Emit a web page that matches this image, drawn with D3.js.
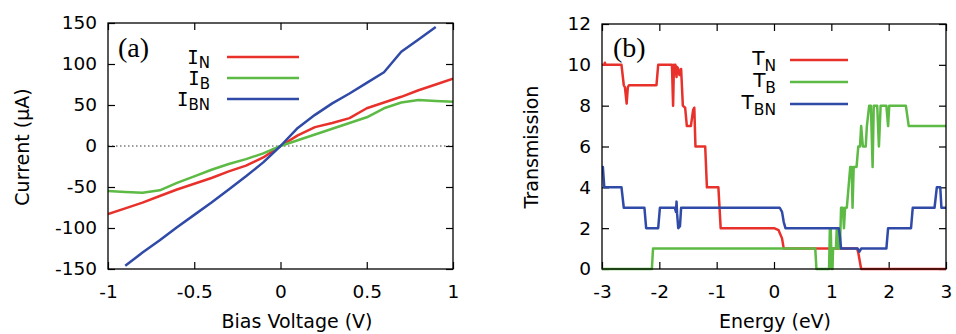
<!DOCTYPE html>
<html>
<head>
<meta charset="utf-8">
<script src="https://cdn.jsdelivr.net/npm/d3@7"></script>
<style>
  html, body { margin: 0; padding: 0; background: #fff; }
  svg { display: block; }
</style>
</head>
<body>
<svg id="chart" width="956" height="334"></svg>
<script>
// Panel (a): I-V curves
const biasV = [-1, -0.9, -0.8, -0.7, -0.6, -0.5, -0.4, -0.3, -0.2, -0.1, 0, 0.1, 0.2, 0.3, 0.4, 0.5, 0.6, 0.7, 0.8, 0.9, 1];
const currN = [-83, -76, -69, -61, -53, -46, -39, -31, -24, -14, 0, 13, 23, 28, 34, 46, 53, 60, 68, 75, 82];
const currB = [-55, -56, -57, -54, -45, -37, -29, -22, -16, -9, 0, 7, 14, 21, 28, 35, 46, 53, 56, 55, 54];
const biasVBN = [-0.9, -0.8, -0.7, -0.6, -0.5, -0.4, -0.3, -0.2, -0.1, 0, 0.1, 0.2, 0.3, 0.4, 0.5, 0.6, 0.7, 0.8, 0.9];
const currBN = [-146, -130, -115, -99, -84, -69, -53, -37, -20, 0, 22, 38, 52, 64, 77, 90, 115, 130, 145];

// Panel (b): transmission spectra
const tnE = [-3, -2.96, -2.95, -2.94, -2.66, -2.62, -2.6, -2.57, -2.55, -2.53, -2.05, -2.02, -1.78, -1.76, -1.745, -1.73, -1.72, -1.7, -1.69, -1.67, -1.65, -1.62, -1.59, -1.55, -1.52, -1.45, -1.41, -1.39, -1.37, -1.2, -1.17, -0.97, -0.93, 0.0, 0.08, 0.14, 0.17, 1.45, 1.47, 1.52, 3];
const tnT = [10, 10, 10.1, 10, 10, 9, 8.9, 8.1, 8.9, 9, 9, 10, 10, 8, 10, 9.6, 10, 9.4, 9.9, 9.8, 9.5, 9.8, 8, 7.9, 7, 7, 7.8, 7.9, 6, 6, 4, 4, 2, 2, 1.9, 1.5, 1, 1, 0.8, 0, 0];
const tbE = [-3, -2.13, -2.11, 0.72, 0.74, 0.96, 0.975, 0.99, 1.005, 1.02, 1.03, 1.08, 1.095, 1.11, 1.125, 1.15, 1.17, 1.2, 1.22, 1.24, 1.27, 1.3, 1.33, 1.355, 1.37, 1.39, 1.44, 1.47, 1.5, 1.52, 1.55, 1.6, 1.62, 1.66, 1.69, 1.72, 1.74, 1.77, 1.8, 1.83, 1.86, 1.88, 1.9, 1.93, 1.96, 1.99, 2.01, 2.3, 2.35, 3];
const tbT = [0, 0, 1, 1, 0, 0, 2, 2, 0, 0, 1, 1, 2, 2, 1, 1, 3, 3, 2, 3, 3, 4, 5, 5, 3, 5, 5, 6, 6, 7, 6, 6, 7, 8, 8, 5, 8, 8, 8, 6, 8, 8, 8, 8, 8, 7, 8, 8, 7, 7];
const tbnE = [-3, -2.985, -2.96, -2.66, -2.62, -2.26, -2.23, -2.02, -1.99, -1.73, -1.71, -1.70, -1.69, -1.67, -1.64, -1.62, 0.1, 0.14, 0.17, 0.2, 1.13, 1.15, 1.17, 1.46, 1.49, 1.52, 1.96, 1.99, 2.39, 2.42, 2.8, 2.84, 2.9, 2.92, 3];
const tbnT = [5, 5, 4, 4, 3, 3, 2, 2, 3, 3, 2.8, 3.3, 2.7, 2, 2.1, 3, 3, 2.8, 2.3, 2, 2, 1.6, 1, 1, 0.85, 1, 1, 2, 2, 3, 3, 4, 4, 3, 3];

const RED = '#e8312b';
const GREEN = '#5dba44';
const BLUE = '#2f4aa7';
const FONT = 'DejaVu Sans, sans-serif';

const svg = d3.select('#chart');

function zip(xs, ys) {
    return xs.map((x, i) => [x, ys[i]]);
}

function drawPanel(opt) {
    const { left, right, top, bottom } = opt.box;
    const x = d3.scaleLinear().domain(opt.xDomain).range([left, right]);
    const y = d3.scaleLinear().domain(opt.yDomain).range([bottom, top]);
    const g = svg.append('g');
    const TICK = 7;

    const styleAxis = sel => {
        sel.select('.domain').remove();
        sel.selectAll('line').attr('stroke', '#000').attr('stroke-width', 1.2);
        sel.selectAll('text').attr('fill', '#000');
        sel.attr('font-family', FONT).attr('font-size', 18.5);
    };

    g.append('g').attr('transform', `translate(0,${bottom})`)
        .call(d3.axisBottom(x).tickValues(opt.xTicks).tickSize(-TICK).tickPadding(15.5).tickFormat(opt.xFmt))
        .call(styleAxis);
    g.append('g').attr('transform', `translate(0,${top})`)
        .call(d3.axisTop(x).tickValues(opt.xTicks).tickSize(-TICK).tickFormat(''))
        .call(styleAxis);
    g.append('g').attr('transform', `translate(${left},0)`)
        .call(d3.axisLeft(y).tickValues(opt.yTicks).tickSize(-TICK).tickPadding(11).tickFormat(opt.yFmt))
        .call(styleAxis);
    g.append('g').attr('transform', `translate(${right},0)`)
        .call(d3.axisRight(y).tickValues(opt.yTicks).tickSize(-TICK).tickFormat(''))
        .call(styleAxis);

    if (opt.zeroLine) {
        g.append('line')
            .attr('x1', left).attr('x2', right)
            .attr('y1', y(0)).attr('y2', y(0))
            .attr('stroke', '#222').attr('stroke-width', 0.9)
            .attr('stroke-dasharray', '1.5,2.5');
    }

    const clipId = 'clip-' + opt.id;
    svg.append('clipPath').attr('id', clipId)
        .append('rect').attr('x', left).attr('y', top - 2)
        .attr('width', right - left).attr('height', bottom - top + 4);

    const line = d3.line().x(d => x(d[0])).y(d => y(d[1]));
    g.append('g').attr('clip-path', `url(#${clipId})`)
        .selectAll('path')
        .data(opt.series)
        .join('path')
        .attr('d', s => line(s.points))
        .attr('fill', 'none')
        .attr('stroke', s => s.color)
        .attr('stroke-width', 2.5)
        .attr('stroke-linejoin', 'round');

    g.append('rect')
        .attr('x', left).attr('y', top)
        .attr('width', right - left).attr('height', bottom - top)
        .attr('fill', 'none').attr('stroke', '#000').attr('stroke-width', 1.3);

    // panel tag
    g.append('text')
        .attr('x', opt.tag.x).attr('y', opt.tag.y)
        .attr('font-family', 'Liberation Serif, serif').attr('font-size', 28)
        .text(opt.tag.text);

    // legend
    const leg = opt.legend;
    opt.series.forEach((s, i) => {
        const ly = leg.y0 + i * leg.dy;
        g.append('line')
            .attr('x1', leg.x1).attr('x2', leg.x2)
            .attr('y1', ly).attr('y2', ly)
            .attr('stroke', s.color).attr('stroke-width', 2.5);
        const t = g.append('text')
            .attr('x', leg.textRight).attr('y', ly + leg.baseOff)
            .attr('text-anchor', 'end').attr('fill', '#000');
        t.append('tspan')
            .attr('font-family', leg.mainFont).attr('font-size', leg.mainSize)
            .text(s.sym);
        t.append('tspan')
            .attr('font-family', FONT).attr('font-size', leg.subSize)
            .attr('dy', leg.subDy)
            .text(s.sub);
    });

    // axis titles
    g.append('text')
        .attr('x', opt.xTitle.x).attr('y', 328)
        .attr('text-anchor', 'middle')
        .attr('font-family', FONT).attr('font-size', 19)
        .text(opt.xTitle.text);
    g.append('text')
        .attr('transform', `translate(${opt.yTitle.x},147) rotate(-90)`)
        .attr('text-anchor', 'middle')
        .attr('font-family', FONT).attr('font-size', 19)
        .text(opt.yTitle.text);
}

drawPanel({
    id: 'a',
    box: { left: 108, right: 453, top: 23, bottom: 269 },
    xDomain: [-1, 1], yDomain: [-150, 150],
    xTicks: [-1, -0.5, 0, 0.5, 1],
    yTicks: [-150, -100, -50, 0, 50, 100, 150],
    xFmt: d => String(d),
    yFmt: d => String(d),
    zeroLine: true,
    series: [
        { sym: 'I', sub: 'N', color: RED, points: zip(biasV, currN) },
        { sym: 'I', sub: 'B', color: GREEN, points: zip(biasV, currB) },
        { sym: 'I', sub: 'BN', color: BLUE, points: zip(biasVBN, currBN) },
    ],
    tag: { text: '(a)', x: 118, y: 57 },
    legend: { x1: 227, x2: 299, y0: 57, dy: 21, textRight: 210, baseOff: 7,
              mainFont: 'DejaVu Sans Mono, monospace', mainSize: 19, subSize: 15, subDy: 4 },
    xTitle: { text: 'Bias Voltage (V)', x: 297 },
    yTitle: { text: 'Current (\u00b5A)', x: 29 },
});

drawPanel({
    id: 'b',
    box: { left: 602, right: 946, top: 24, bottom: 269 },
    xDomain: [-3, 3], yDomain: [0, 12],
    xTicks: [-3, -2, -1, 0, 1, 2, 3],
    yTicks: [0, 2, 4, 6, 8, 10, 12],
    xFmt: d => String(d),
    yFmt: d => String(d),
    zeroLine: false,
    series: [
        { sym: 'T', sub: 'N', color: RED, points: zip(tnE, tnT) },
        { sym: 'T', sub: 'B', color: GREEN, points: zip(tbE, tbT) },
        { sym: 'T', sub: 'BN', color: BLUE, points: zip(tbnE, tbnT) },
    ],
    tag: { text: '(b)', x: 613, y: 57 },
    legend: { x1: 790, x2: 848, y0: 60, dy: 22, textRight: 776, baseOff: 5,
              mainFont: FONT, mainSize: 20, subSize: 15.5, subDy: 6 },
    xTitle: { text: 'Energy (eV)', x: 775 },
    yTitle: { text: 'Transmission', x: 538 },
});
</script>
</body>
</html>
